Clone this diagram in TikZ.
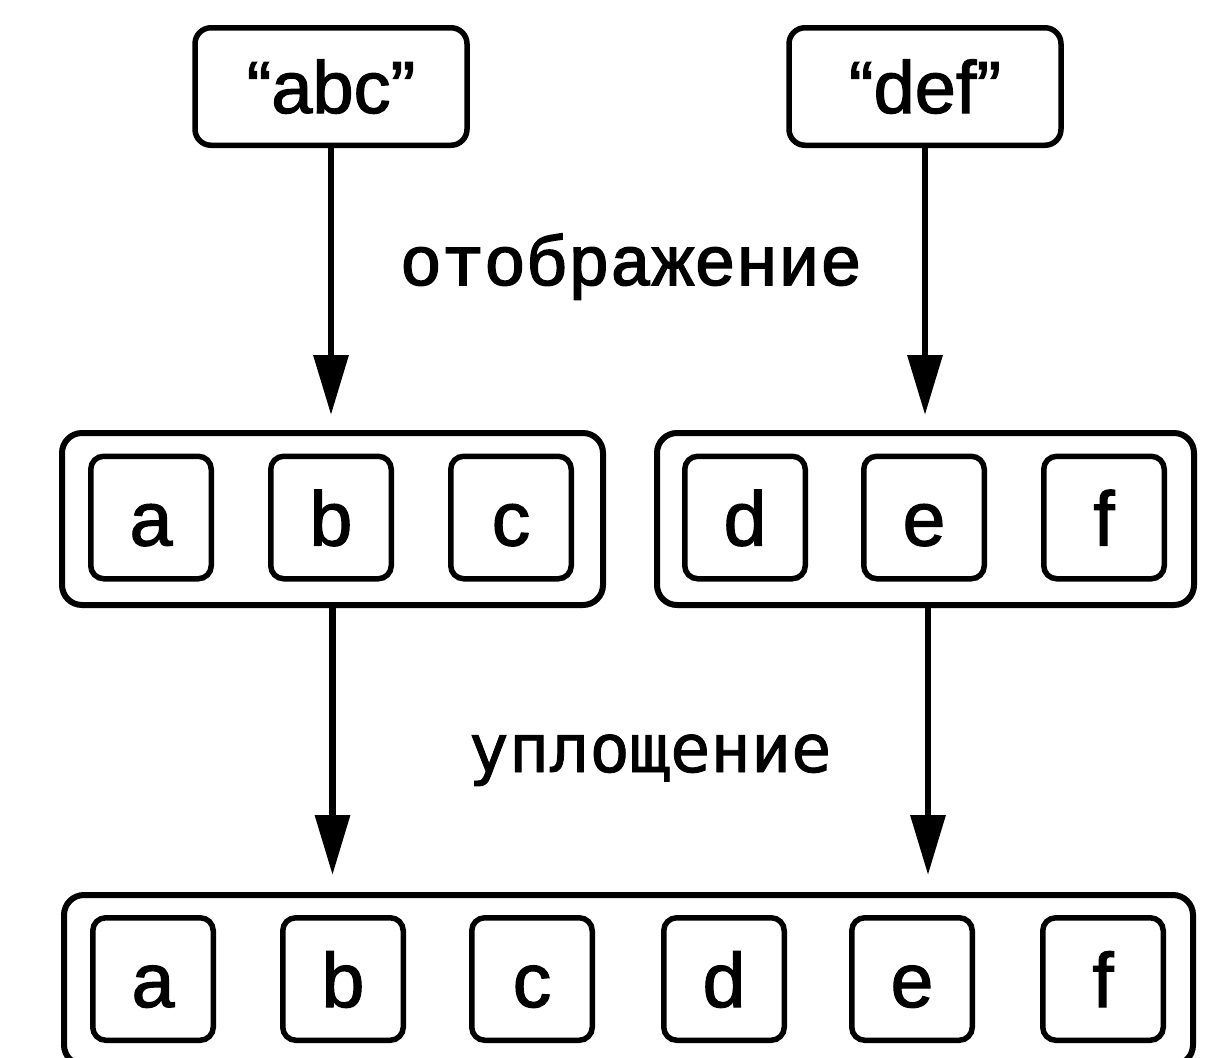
\documentclass[tikz,border=0pt]{standalone}
\usepackage{fontspec}
\setmainfont{Liberation Sans}
\newfontfamily\sansB{Liberation Sans}[FakeBold=1.6]
\newfontfamily\monoA{Liberation Mono}[FakeBold=2.2]
\newfontfamily\monoB{DejaVu Sans Mono}[FakeBold=1.2]
\usetikzlibrary{arrows.meta}
\begin{document}
\begin{tikzpicture}[x=1pt,y=-1pt,
  topbox/.style={draw, line width=5.5pt, rounded corners=16pt, minimum width=272pt, minimum height=117.5pt, inner sep=0pt, text height=53pt, text depth=0pt, font=\sansB\fontsize{74}{80}\selectfont},
  cell/.style={draw, line width=5.5pt, rounded corners=13pt, minimum width=120.5pt, minimum height=122.5pt, inner sep=0pt, text height=56pt, text depth=0pt, font=\sansB\fontsize{77}{80}\selectfont},
  group/.style={draw, line width=6pt, rounded corners=20pt, inner sep=0pt},
  arr/.style={line width=6.5pt, -{Triangle[length=60pt,width=34pt]}},
  lbl/.style={inner sep=0pt, anchor=base}]
\useasboundingbox (0,0) rectangle (1211,1058);
\clip (0,0) rectangle (1211,1058);
% top boxes
\node[topbox] (abc) at (331,86.5) {“abc”};
\node[topbox] (def) at (925,86.5) {“def”};
% middle groups
\node[group, minimum width=541pt, minimum height=172pt] (g1) at (332.5,519) {};
\node[group, minimum width=537pt, minimum height=172pt] (g2) at (925.5,519) {};
\node[cell] (ma) at (151,517.5) {a};
\node[cell] (mb) at (331,517.5) {b};
\node[cell] (mc) at (511,517.5) {c};
\node[cell] (md) at (745,517.5) {d};
\node[cell] (me) at (924,517.5) {e};
\node[cell] (mf) at (1104,517.5) {f};
% bottom group
\node[group, minimum width=1129pt, minimum height=170pt] (g3) at (628.5,980) {};
\node[cell] (ba) at (153,979) {a};
\node[cell] (bb) at (343,979) {b};
\node[cell] (bc) at (532,979) {c};
\node[cell] (bd) at (724,979) {d};
\node[cell] (be) at (912,979) {e};
\node[cell] (bf) at (1103,979) {f};
% labels
\node[lbl, font=\monoA\fontsize{70}{70}\selectfont] (map) at (631,285) {отображение};
\node[lbl, font=\monoB\fontsize{67}{67}\selectfont] (flat) at (650,772) {уплощение};
% arrows
\draw[arr, shorten >=15pt] (abc.south) -- (abc.south |- g1.north);
\draw[arr, shorten >=15pt] (def.south) -- (def.south |- g2.north);
\draw[arr, shorten >=17pt] (g1.south) -- (g1.south |- g3.north);
\draw[arr, shorten >=17pt] ([xshift=2.5pt]g2.south) -- ([xshift=2.5pt]g2.south |- g3.north);
\end{tikzpicture}
\end{document}
